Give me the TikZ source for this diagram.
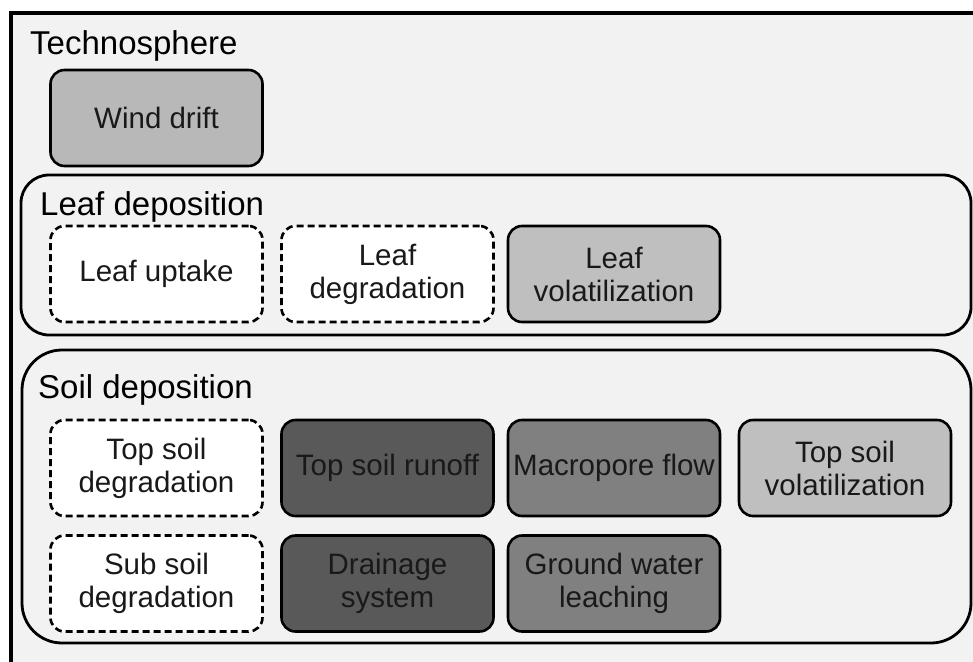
\documentclass[tikz,border=0pt]{standalone}
\usepackage{fontspec}
\setmainfont{Liberation Sans}
\begin{document}
\begin{tikzpicture}[x=1pt,y=-1pt,
  proc/.style={draw=black, line width=2.6pt, rounded corners=14pt,
    minimum width=212pt, minimum height=96pt, inner sep=2pt, align=center,
    text=black!90, font=\fontsize{29.5}{33}\selectfont},
  dashbox/.style={proc, fill=white, dash pattern=on 7pt off 4pt},
  group/.style={draw=black, line width=2.8pt, fill=black!5},
  heading/.style={anchor=base west, inner sep=0pt, font=\fontsize{33}{36}\selectfont}]
\clip (0,0) rectangle (973,661);
\fill[white] (0,0) rectangle (973,661);
% outer frame
\draw[line width=3.4pt, fill=black!5] (11,13) rectangle (1000,700);
\node[heading] (techno) at (30,55) {Technosphere};
\node[proc, fill=black!28] (wind) at (156.5,118) {Wind drift};
% leaf deposition
\draw[group, rounded corners=28pt] (21,175) rectangle (971,335);
\node[heading] (leafdep) at (40,215) {Leaf deposition};
\node[dashbox] (leafup) at (156.5,274) {Leaf uptake};
\node[dashbox] (leafdeg) at (387.5,274) {Leaf\\degradation};
\node[proc, fill=black!25] (leafvol) at (614,274) {Leaf\\volatilization};
% soil deposition
\draw[group, rounded corners=40pt] (22,350) rectangle (971,643);
\node[heading] (soildep) at (38,398) {Soil deposition};
\node[dashbox] (tsd) at (156.5,468) {Top soil\\degradation};
\node[proc, fill=black!65] (tsr) at (387.5,468) {Top soil runoff};
\node[proc, fill=black!50] (mac) at (614,468) {Macropore flow};
\node[proc, fill=black!25] (tsv) at (845,468) {Top soil\\volatilization};
\node[dashbox] (ssd) at (156.5,583.5) {Sub soil\\degradation};
\node[proc, fill=black!65] (dra) at (387.5,583.5) {Drainage\\system};
\node[proc, fill=black!50] (gwl) at (614,583.5) {Ground water\\leaching};
\end{tikzpicture}
\end{document}
